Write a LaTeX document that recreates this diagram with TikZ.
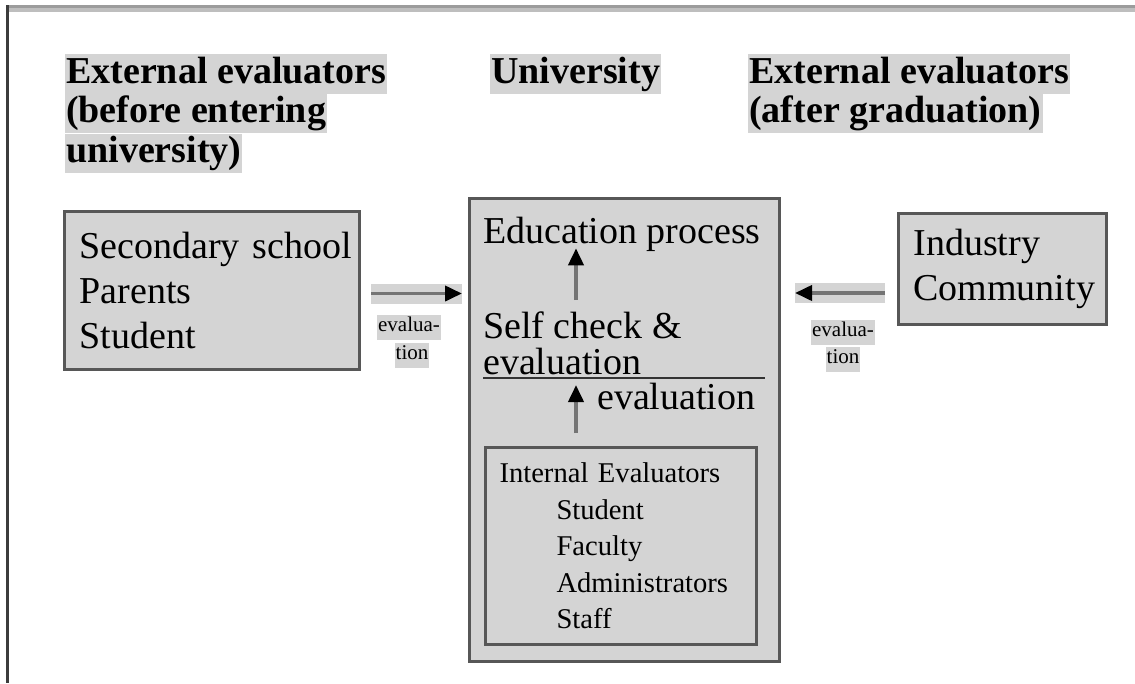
\documentclass[tikz,border=0pt]{standalone}
\usepackage{fontspec}
\setmainfont{Liberation Serif}
\usetikzlibrary{arrows.meta, positioning, calc}
\definecolor{evInk}{HTML}{000000}
\definecolor{evShade}{HTML}{D4D4D4}
\definecolor{evEdge}{HTML}{575757}
\definecolor{evShaft}{HTML}{747474}
\definecolor{evRuleTop}{HTML}{9C9C9C}
\definecolor{evRuleLow}{HTML}{BEBEBE}
\definecolor{evFrame}{HTML}{3C3C3C}
\newcommand{\evbig}{\fontsize{38}{45}\selectfont}
\newcommand{\evsmall}{\fontsize{28.6}{36.5}\selectfont}
\newcommand{\evindent}{\hspace*{57pt}}
\tikzset{
  evhead/.style={
    fill=evShade, text=evInk, font=\bfseries\fontsize{38}{38}\selectfont,
    text height=29pt, text depth=10.3pt, inner xsep=1pt, inner ysep=0pt,
    anchor=north west,
  },
  evbox/.style={
    draw=evEdge, fill=evShade, line width=3pt, anchor=north west,
    align=left, inner ysep=0pt,
  },
  evtext/.style={inner sep=0pt, anchor=base west, font=\evbig},
  evarrow/.style={
    -{Triangle[length=17pt, width=15pt, color=black]}, draw=evShaft,
    line width=3.8pt,
  },
  evband/.style={preaction={draw=evShade, line width=20pt, arrows=-}},
  evtag/.style={
    fill=evShade, font=\fontsize{21}{21}\selectfont, text height=16pt,
    text depth=9pt, inner xsep=1pt, inner ysep=0pt, anchor=north,
  },
}

\begin{document}
\begin{tikzpicture}[x=1pt, y=-1pt]
\useasboundingbox (0,0) rectangle (1135,683);

% Page edges ---------------------------------------------------------------
\draw[evRuleTop, line width=3pt] (7,6.5) -- (1135,6.5);
\draw[evRuleLow, line width=4pt] (7,10) -- (1135,10);
\draw[evFrame, line width=3pt] (7.5,5) -- (7.5,683);

% Headings -----------------------------------------------------------------
\node[evhead] (preA) at (65,54) {External evaluators};
\node[evhead] (preB) at (preA.south west) {(before entering};
\node[evhead] (preC) at (preB.south west) {university)};

\node[evhead] (uni) at (490,54) {University};

\node[evhead] (postA) at (748,54) {External evaluators};
\node[evhead] (postB) at (postA.south west) {(after graduation)};

% Boxes --------------------------------------------------------------------
\node[evbox, minimum width=295pt, minimum height=158pt, text width=265pt,
  inner xsep=15pt, font=\evbig] (school) at (63,210)
  {Secondary~school\\Parents\\Student};

\node[evbox, minimum width=208pt, minimum height=111pt, text width=178pt,
  inner xsep=15pt, font=\evbig] (comm) at (897,212)
  {Industry\\Community};

\node[evbox, minimum width=310pt, minimum height=463pt] (process) at (468,197) {};

% Inside the university
\node[evtext] (edu) at (483,243) {Education process};
\node[evtext] (selfA) at (483,338) {Self check \&};
\node[evtext] (selfB) at (483,374) {evaluation};
\coordinate (ruleL) at (483,378);
\coordinate (ruleR) at (765,378);
\draw[evInk!80, line width=2.4pt] (ruleL) -- (ruleR);
\node[evtext] (evalIn) at (597,409) {evaluation};

\node[evbox, minimum width=271pt, minimum height=197pt, text width=243pt,
  inner xsep=14pt, font=\evsmall] (internal) at (484,446)
  {Internal~Evaluators\\\evindent Student\\\evindent Faculty\\
   \evindent Administrators\\\evindent Staff};

% Flow ---------------------------------------------------------------------
\coordinate (axis) at (576,0);
\draw[evarrow, shorten <=11pt, shorten >=-3pt] (selfA.north -| axis) -- (edu.south -| axis);
\draw[evarrow, shorten <=13pt, shorten >=7pt] (internal.north -| axis) -- (ruleL -| axis);

\draw[evarrow, evband, shorten <=10pt, shorten >=6pt]
  ([yshift=-3pt]school.east) -- ([yshift=-3pt]school.east -| process.west);
\draw[evarrow, evband, shorten <=12pt, shorten >=14pt]
  ([yshift=-24pt]comm.west) -- ([yshift=-24pt]comm.west -| process.east);

\node[evtag] (tagLa) at (409,315) {evalua-};
\node[evtag] (tagLb) at (412,343) {tion};
\node[evtag] (tagRa) at (843,320) {evalua-};
\node[evtag] (tagRb) at (843,347) {tion};

\end{tikzpicture}
\end{document}
